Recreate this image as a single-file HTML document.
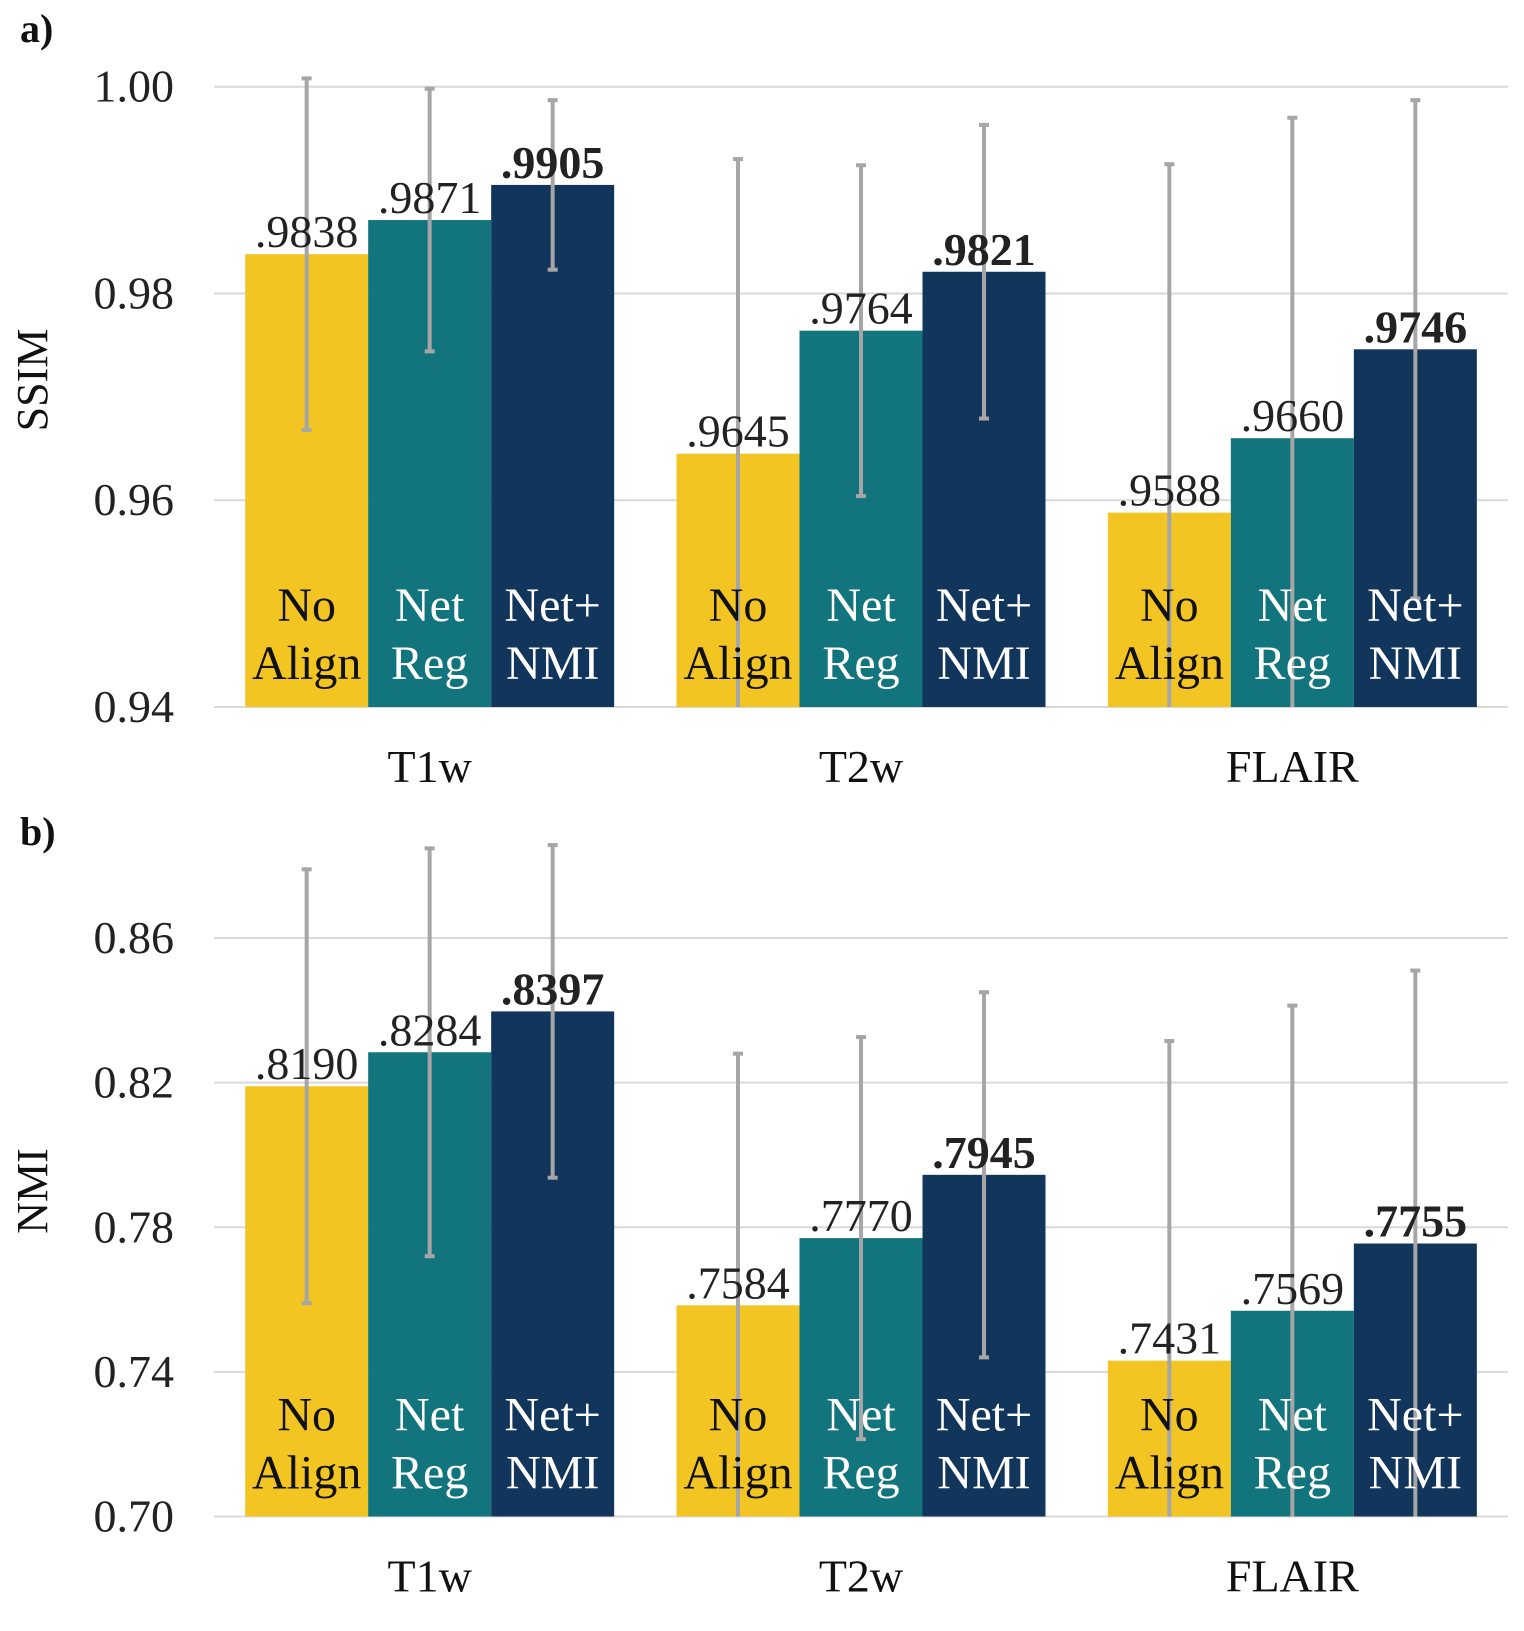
<!DOCTYPE html>
<html><head><meta charset="utf-8"><style>
html,body{margin:0;padding:0;background:#fff;}
svg{display:block;font-family:"Liberation Serif","Times New Roman",serif;}
</style></head><body>
<svg id="chart" width="1524" height="1631" viewBox="0 0 1524 1631" xmlns="http://www.w3.org/2000/svg"></svg>
<script>
const categories = ["T1w","T2w","FLAIR"];
const seriesNames = [["No","Align"],["Net","Reg"],["Net+","NMI"]];
const ssimValues = [[0.9838,0.9645,0.9588],[0.9871,0.9764,0.9660],[0.9905,0.9821,0.9746]];
const ssimErrors = [[0.0170,0.0285,0.0337],[0.0127,0.0160,0.0310],[0.0082,0.0142,0.0241]];
const ssimLabels = [[".9838",".9645",".9588"],[".9871",".9764",".9660"],[".9905",".9821",".9746"]];
const ssimTicks = [0.94,0.96,0.98,1.00];
const ssimTickLabels = ["0.94","0.96","0.98","1.00"];
const nmiValues = [[0.8190,0.7584,0.7431],[0.8284,0.7770,0.7569],[0.8397,0.7945,0.7755]];
const nmiErrors = [[0.0600,0.0696,0.0884],[0.0564,0.0556,0.0844],[0.0460,0.0505,0.0755]];
const nmiLabels = [[".8190",".7584",".7431"],[".8284",".7770",".7569"],[".8397",".7945",".7755"]];
const nmiTicks = [0.70,0.74,0.78,0.82,0.86];
const nmiTickLabels = ["0.70","0.74","0.78","0.82","0.86"];

const NS="http://www.w3.org/2000/svg";
const svg=document.getElementById('chart');
const colors=["#F2C522","#12747C","#12355B"];
const textColors=["#111","#fff","#fff"];
function mk(tag,attrs,parent){const e=document.createElementNS(NS,tag);for(const k in attrs)e.setAttribute(k,attrs[k]);(parent||svg).appendChild(e);return e;}

function panel(p){
  const g=mk('g',{});
  
  
  const x0=214,x1=1508,catW=(x1-x0)/3,barW=123;
  const y=v=>p.yBot-(v-p.min)/(p.max-p.min)*(p.yBot-p.yTop);
  p.ticks.forEach((t,i)=>{
    const l=mk('line',{x1:x0,x2:x1,y1:y(t),y2:y(t),stroke:"#D9D9D9","stroke-width":2},g);
    
    
    const tx=mk('text',{x:174,y:y(t)+15,"text-anchor":"end","font-size":46,fill:"#222"},g);
    tx.textContent=p.tickLabels[i];
    
    
  });
  categories.forEach((c,ci)=>{
    const gx=x0+ci*catW+(catW-3*barW)/2;
    for(let s=0;s<3;s++){
      const bx=gx+s*barW,v=p.values[s][ci],cx=bx+barW/2;
      const r=mk('rect',{x:bx,y:y(v),width:barW,height:p.yBot-y(v),fill:colors[s]},g);
      
      
      const e=p.errors[s][ci];
      const top=Math.max(y(v+e),p.yTop-130),bot=Math.min(y(v-e),p.yBot);
      const el=mk('line',{x1:cx,x2:cx,y1:top,y2:bot,stroke:"#A6A6A6","stroke-width":4},g);
      
      
      [top,bot].forEach(yy=>{if(yy<p.yBot){const cap=mk('line',{x1:cx-5,x2:cx+5,y1:yy,y2:yy,stroke:"#A6A6A6","stroke-width":4},g);
        
        }});
      const vl=mk('text',{x:cx,y:y(v)-7,"text-anchor":"middle","font-size":46,fill:"#222","font-weight":s===2?"bold":"normal"},g);
      vl.textContent=p.labels[s][ci];
      
      
      seriesNames[s].forEach((w,wi)=>{
        const t=mk('text',{x:cx,y:p.yBot-(wi===0?86:28),"text-anchor":"middle","font-size":48,fill:textColors[s]},g);
        t.textContent=w;
        
        
      });
    }
    const cl=mk('text',{x:x0+ci*catW+catW/2,y:p.yBot+75,"text-anchor":"middle","font-size":46,fill:"#111"},g);
    cl.textContent=c;
    
    
  });
  const yt=mk('text',{x:0,y:0,"text-anchor":"middle","font-size":44,fill:"#111",transform:`translate(47,${p.titleY}) rotate(-90)`},g);
  yt.textContent=p.title;
  
  
  const pl=mk('text',{x:20,y:p.letterY,"font-size":40,"font-weight":"bold",fill:"#111"},g);
  pl.textContent=p.letter;
  
  
}
panel({name:'ssim-panel',values:ssimValues,errors:ssimErrors,labels:ssimLabels,ticks:ssimTicks,tickLabels:ssimTickLabels,min:0.94,max:1.00,yTop:86.7,yBot:707,title:"SSIM",titleY:380,letter:"a)",letterY:42});
panel({name:'nmi-panel',values:nmiValues,errors:nmiErrors,labels:nmiLabels,ticks:nmiTicks,tickLabels:nmiTickLabels,min:0.70,max:0.86,yTop:938,yBot:1516.5,title:"NMI",titleY:1191,letter:"b)",letterY:845});
</script>
</body></html>
